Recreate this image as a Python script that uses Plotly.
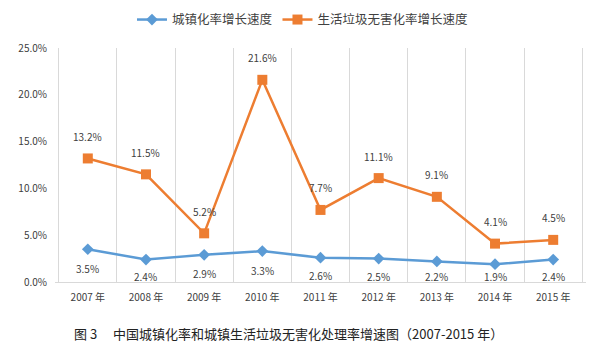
import plotly.graph_objects as go

years = ["2007 年", "2008 年", "2009 年", "2010 年", "2011 年", "2012 年", "2013 年", "2014 年", "2015 年"]
urban_rate = [3.5, 2.4, 2.9, 3.3, 2.6, 2.5, 2.2, 1.9, 2.4]
waste_rate = [13.2, 11.5, 5.2, 21.6, 7.7, 11.1, 9.1, 4.1, 4.5]
y_ticks = [0, 5, 10, 15, 20, 25]
y_tick_labels = ["0.0%", "5.0%", "10.0%", "15.0%", "20.0%", "25.0%"]

FONT = "Noto Sans CJK SC"
TXT = "#404040"
BLUE = "#5B9BD5"
ORANGE = "#ED7D31"

W, H = 592, 350
ML, MR, MT, MB = 47, 14, 40, 76
PLOT_H = H - MT - MB
Y_MAX = 25

fig = go.Figure()
fig.add_trace(go.Scatter(
    x=years, y=urban_rate, name="城镇化率增长速度", mode="lines+markers",
    line=dict(color=BLUE, width=2.5),
    marker=dict(symbol="diamond", size=9, color=BLUE),
))
fig.add_trace(go.Scatter(
    x=years, y=waste_rate, name="生活垃圾无害化率增长速度", mode="lines+markers",
    line=dict(color=ORANGE, width=2.5),
    marker=dict(symbol="square", size=10, color=ORANGE),
))

annotations = []
for x, v in zip(years, urban_rate):
    # labels below the point, kept inside the plot area (like the original)
    px_above_axis = v / Y_MAX * PLOT_H
    shift = min(19, px_above_axis - 6)
    annotations.append(dict(x=x, y=v, text=f"{v:.1f}%", showarrow=False, yshift=-shift,
                            font=dict(family=FONT, size=10, color=TXT)))
for x, v in zip(years, waste_rate):
    annotations.append(dict(x=x, y=v, text=f"{v:.1f}%", showarrow=False, yshift=22,
                            font=dict(family=FONT, size=10, color=TXT)))
annotations.append(dict(
    xref="paper", yref="paper", x=0.439, y=-0.218, xanchor="center", yanchor="middle",
    text="图 3　 中国城镇化率和城镇生活垃圾无害化处理率增速图（2007-2015 年）",
    showarrow=False, font=dict(family=FONT, size=13, color="#222222"),
))

fig.update_layout(
    width=W, height=H,
    margin=dict(l=ML, r=MR, t=MT, b=MB, autoexpand=False),
    paper_bgcolor="white", plot_bgcolor="white",
    font=dict(family=FONT, size=10, color=TXT),
    showlegend=True,
    legend=dict(orientation="h", x=0.467, xanchor="center", y=1.12, yanchor="middle",
                font=dict(family=FONT, size=12.5, color=TXT), itemwidth=30),
    annotations=annotations,
)
fig.update_xaxes(
    type="category", tickson="boundaries", showgrid=True, gridcolor="#D9D9D9", gridwidth=1,
    showline=True, linecolor="#D9D9D9", ticks="", tickfont=dict(family=FONT, size=10, color=TXT),
    ticklabelstandoff=6, automargin=False,
)
fig.update_yaxes(
    range=[0, Y_MAX], tickvals=y_ticks, ticktext=y_tick_labels, showgrid=False,
    zeroline=False, showline=False, ticks="", tickfont=dict(family=FONT, size=10, color=TXT),
    ticklabelstandoff=7, automargin=False,
)

fig.write_html("out.html")
